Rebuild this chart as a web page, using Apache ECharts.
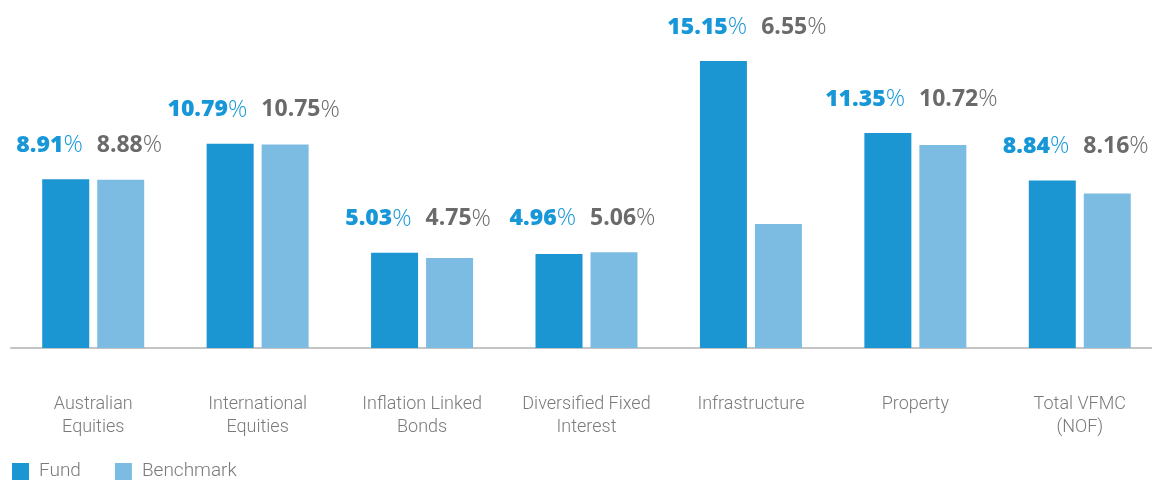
<!DOCTYPE html>
<html><head><meta charset="utf-8">
<script src="https://cdn.jsdelivr.net/npm/echarts@6/dist/echarts.min.js"></script>
<style>html,body{margin:0;padding:0;background:#fff;overflow:hidden;width:1152px;height:480px}#c{width:1164px;height:480px}</style>
</head><body><div id="c"></div>
<script>
const categories = ['Australian\nEquities','International\nEquities','Inflation Linked\nBonds','Diversified Fixed\nInterest','Infrastructure','Property','Total VFMC\n(NOF)'];
const fund = [8.91,10.79,5.03,4.96,15.15,11.35,8.84];
const benchmark = [8.88,10.75,4.75,5.06,6.55,10.72,8.16];

const labelData = fund.map((f,i)=>({value:Math.max(f,benchmark[i]), f:f, b:benchmark[i]}));
const numFont = '"Open Sans", Lato, sans-serif';
const chart = echarts.init(document.getElementById('c'));
chart.setOption({
  animation:false,
  grid:{left:11,right:2,top:45,bottom:132,containLabel:false},
  legend:{left:7,bottom:-6,itemWidth:17,itemHeight:17,itemGap:34,icon:'rect',
    textStyle:{fontSize:19,color:'#7a7a7a',fontFamily:'Roboto, sans-serif',fontWeight:300,padding:[0,0,0,5]},
    data:['Fund','Benchmark']},
  xAxis:{type:'category',data:categories,
    axisLine:{lineStyle:{color:'#c4c4c4',width:2}},axisTick:{show:false},
    axisLabel:{interval:0,margin:45,fontSize:18,lineHeight:23,color:'#7a7a7a',fontFamily:'Roboto, sans-serif',fontWeight:300}},
  yAxis:{type:'value',min:0,max:16,show:false,splitLine:{show:false}},
  series:[
    {name:'Fund',type:'bar',data:fund,barWidth:47,barGap:'17%',itemStyle:{color:'#1b96d3'}},
    {name:'Benchmark',type:'bar',data:benchmark,barWidth:47,itemStyle:{color:'#7dbce2'}},
    {name:'lbl',type:'scatter',data:labelData,symbolSize:0,itemStyle:{color:'#fff'},silent:true,z:5,
      label:{show:true,position:'top',distance:22,opacity:1,
        formatter:p=>`{a|${p.data.f.toFixed(2)}}{p|%}{b|${p.data.b.toFixed(2)}}{q|%}`,
        rich:{
          a:{fontFamily:numFont,fontWeight:800,fontSize:23,color:'#1797d8'},
          p:{fontFamily:numFont,fontWeight:300,fontSize:24,color:'#1797d8'},
          b:{fontFamily:numFont,fontWeight:700,fontSize:23,color:'#6a6a6a',padding:[0,0,0,14]},
          q:{fontFamily:numFont,fontWeight:300,fontSize:24,color:'#6a6a6a',padding:[0,8,0,0]}
        }}}
  ]
});
</script></body></html>
